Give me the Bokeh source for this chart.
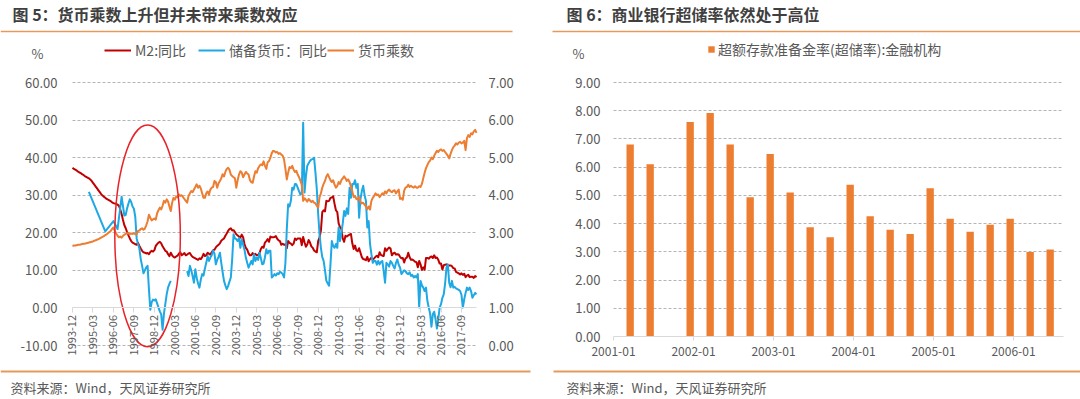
import math
from bokeh.plotting import figure
from bokeh.models import (Range1d, LinearAxis, FixedTicker, NumeralTickFormatter, Grid,
                          Legend, LegendItem, Label, BoxAnnotation)
from bokeh.layouts import row
from bokeh.embed import file_html
from bokeh.resources import INLINE

NAN = float("nan")
FONT = "Noto Sans CJK SC"
GRAY = "#595959"
AXIS = "#D9D9D9"
GRID = "#B4B4B4"
SEP = "#E59A5C"

# ---------------- Figure 5 data (monthly) ----------------
title5 = "图 5：货币乘数上升但并未带来乘数效应"
m2_start = "1993-12"
m2_yoy = [
    37.3,
    37.0, 36.8, 36.6, 36.3, 36.1, 35.9, 35.6, 35.4, 35.1, 34.9, 34.7, 34.5,
    34.2, 33.8, 33.3, 32.8, 32.3, 31.8, 31.3, 30.8, 30.3, 29.9, 29.6, 29.3,
    29.0, 28.8, 28.6, 28.4, 28.1, 27.9, 27.8, 27.7, 27.5, 27.2, 26.2, 25.0,
    23.4, 22.0, 21.2, 20.2, 19.3, 18.5, 17.8, 17.4, 17.2, 17.0, 16.8, 17.3,
    16.5, 15.8, 15.2, 14.8, 14.7, 14.5, 14.6, 14.3, 14.9, 15.2, 15.0, 15.4,
    16.5, 17.0, 17.4, 17.6, 17.2, 16.4, 15.8, 15.2, 15.0, 14.3, 13.8, 14.7,
    14.0, 13.6, 13.4, 13.7, 13.9, 14.5, 14.8, 14.0, 14.3, 14.6, 14.0, 14.2,
    14.5, 14.6, 14.0, 13.6, 13.4, 13.2, 13.0, 12.8, 13.2, 13.0, 13.5, 14.4,
    13.8, 14.0, 14.7, 14.4, 14.2, 14.8, 15.3, 15.5, 16.1, 16.5, 16.8, 17.2,
    17.9, 18.2, 18.5, 19.2, 19.8, 20.5, 21.0, 21.2, 20.6, 20.7, 20.2, 19.6,
    19.3, 19.0, 18.7, 19.5, 18.8, 17.0, 16.0, 15.5, 14.5, 14.0, 14.0, 14.6,
    14.1, 14.4, 14.0, 14.1, 14.6, 15.7, 16.3, 16.0, 17.4, 17.8, 18.3, 17.6,
    19.0, 18.8, 18.8, 18.9, 19.1, 18.4, 18.0, 17.8, 16.8, 17.1, 16.8, 16.9,
    15.9, 17.8, 17.3, 17.1, 16.7, 17.1, 18.5, 18.1, 18.5, 18.5, 18.5, 16.7,
    18.9, 17.5, 16.3, 16.9, 18.1, 17.4, 16.4, 16.0, 15.3, 15.0, 14.8, 17.8,
    18.8, 20.5, 25.5, 26.0, 25.7, 28.5, 28.4, 28.5, 29.3, 29.4, 29.7, 27.7,
    26.0, 25.5, 22.5, 21.5, 21.0, 18.5, 17.6, 19.2, 19.0, 19.3, 19.5, 19.7,
    17.2, 15.7, 16.6, 15.3, 15.1, 15.9, 14.7, 13.5, 13.0, 12.9, 12.7, 13.6,
    12.4, 13.0, 13.4, 12.8, 13.2, 13.6, 13.9, 13.5, 14.8, 14.1, 13.9, 13.8,
    15.9, 15.2, 15.7, 16.1, 15.8, 14.0, 14.5, 14.7, 14.2, 14.3, 14.2, 13.6,
    13.2, 13.3, 12.1, 13.2, 13.4, 14.7, 13.5, 12.8, 12.9, 12.6, 12.3, 12.2,
    10.8, 12.5, 11.6, 10.1, 10.8, 10.2, 13.3, 13.3, 13.1, 13.5, 13.7, 13.3,
    14.0, 13.3, 13.4, 12.8, 11.8, 11.8, 10.2, 11.4, 11.5, 11.6, 11.4, 11.3,
    11.3, 11.1, 10.6, 10.5, 9.6, 9.4, 9.2, 8.9, 9.2, 8.8, 9.1, 8.2,
    8.6, 8.8, 8.2, 8.3, 8.3, 8.0, 8.5, 8.2,
]

mult_start = "1993-12"
money_multiplier = [
    2.65,
    2.66, 2.66, 2.67, 2.68, 2.68, 2.69, 2.70, 2.71, 2.71, 2.72, 2.73, 2.74,
    2.75, 2.76, 2.77, 2.79, 2.80, 2.82, 2.83, 2.85, 2.87, 2.89, 2.91, 2.94,
    2.96, 2.99, 3.02, 3.05, 3.10, 3.14, 3.05, 2.98, 2.92, 2.88, 2.90, 2.87,
    2.92, 2.95, 2.97, 2.99, 2.98, 2.97, 2.98, 2.97, 2.99, 2.96, 2.96, 3.05,
    3.06, 3.10, 3.12, 3.08, 3.11, 3.20, 3.30, 3.48, 3.40, 3.33, 3.36, 3.38,
    3.35, 3.52, 3.60, 3.67, 3.62, 3.72, 3.85, 3.80, 3.89, 3.83, 3.70, 3.58,
    3.80, 3.93, 3.88, 3.97, 3.95, 4.02, 3.98, 4.00, 3.95, 3.90, 3.85, 3.80,
    3.98, 4.05, 4.11, 4.08, 4.15, 4.22, 4.29, 4.20, 4.25, 4.18, 4.05, 3.93,
    3.93, 4.05, 4.10, 4.02, 4.15, 4.20, 4.22, 4.38, 4.35, 4.20, 4.32, 4.38,
    4.45, 4.56, 4.50, 4.62, 4.70, 4.73, 4.68, 4.55, 4.51, 4.48, 4.45, 4.20,
    4.40, 4.55, 4.64, 4.60, 4.48, 4.55, 4.62, 4.58, 4.55, 4.40, 4.35, 4.33,
    4.50, 4.64, 4.60, 4.72, 4.78, 4.82, 4.80, 4.90, 4.78, 4.70, 4.88, 4.91,
    5.00, 5.12, 5.18, 5.17, 5.14, 5.15, 5.10, 5.12, 5.08, 5.05, 4.95, 4.70,
    4.42, 4.60, 4.75, 4.72, 4.78, 4.68, 4.62, 4.65, 4.55, 4.48, 4.38, 4.28,
    3.85, 3.92, 3.88, 3.83, 3.90, 3.86, 3.82, 3.85, 3.80, 3.78, 3.72, 3.67,
    3.95, 4.05, 4.20, 4.30, 4.38, 4.50, 4.56, 4.48, 4.40, 4.35, 4.40, 4.28,
    4.20, 4.25, 4.35, 4.30, 4.40, 4.45, 4.50, 4.45, 4.38, 4.42, 4.35, 4.24,
    4.10, 3.95, 3.98, 3.90, 3.88, 3.95, 3.82, 3.78, 3.80, 3.75, 3.70, 3.63,
    3.70, 3.62, 3.85, 3.93, 3.98, 4.05, 4.00, 4.02, 3.95, 4.00, 4.05, 4.02,
    4.10, 4.05, 4.12, 4.15, 4.10, 4.08, 4.12, 4.13, 4.05, 4.10, 4.15, 3.90,
    3.92, 3.88, 4.12, 4.20, 4.22, 4.28, 4.22, 4.25, 4.22, 4.20, 4.24, 4.20,
    4.20, 4.24, 4.22, 4.30, 4.45, 4.60, 4.72, 4.80, 4.88, 4.92, 5.00, 4.96,
    5.05, 5.12, 5.18, 5.15, 5.20, 5.22, 5.18, 5.20, 5.15, 5.10, 5.05, 4.98,
    5.10, 5.20, 5.28, 5.32, 5.38, 5.35, 5.40, 5.42, 5.38, 5.40, 5.45, 5.20,
    5.52, 5.60, 5.55, 5.65, 5.62, 5.70, 5.74, 5.66,
]

# None = month without observation (line continues), NAN = gap in the line
reserve_start = "1994-12"
reserve_yoy = [
    30.9,
    None, None, None, None, None, None, None, None, None, None, None,
    20.4,
    None, None, None, None, None,
    23.1,
    None, None,
    21.0,
    None, None,
    29.6,
    27.0, 24.6, 24.8, 26.5, 27.8, 28.9, 28.2, 27.0, 26.4, 24.2, 18.5, 17.0,
    15.8, 13.0, 11.2, 9.2, 10.0, 10.8, 11.2, 5.0, -0.5, 1.5, 2.2, 2.0,
    2.3, 1.2, 0.1, -0.9, -1.7, -5.8, -1.5, 1.0, 3.6, 5.4, 6.4, 7.2,
    NAN, NAN, NAN, NAN, NAN, NAN, NAN, NAN, NAN, NAN, NAN, 9.8,
    8.5, 11.2, 10.0, 8.5, 6.7, 10.3, 8.0, 6.5, 5.4, 7.5, 9.0, 8.6,
    10.5, 12.0, 13.8, 12.5, 13.4, 14.0, 15.2, 14.5, 11.6, 12.8, 13.6, 14.7,
    12.0, 9.5, 7.2, 6.0, 5.0, 5.8, 7.0, 8.1, 13.0, 19.6, 18.5, 18.3,
    17.8, 18.6, 16.0, 18.3, 16.8, 15.5, 13.4, 12.0, 10.7, 11.6, 12.5, 11.6,
    14.3, 12.5, 13.4, 12.8, 14.7, 13.2, 11.6, 11.8, 13.5, 15.6, 14.5, 15.2,
    15.2, 8.1, 8.5, 9.0, 8.6, 9.2, 9.0, 9.6, 9.4, 9.0, 8.1, 12.0,
    20.9, 27.6, 27.0, 28.5, 32.0, 31.5, 33.0, 32.9, 32.0, 31.0, 30.2, 30.5,
    49.3, 30.7, 35.0, 37.8, 38.5, 39.1, 39.5, 39.6, 40.0, 36.0, 31.6, 25.0,
    19.6, 16.0, 13.5, 12.5, 10.0, 7.2, 6.5, 5.9, 11.6, 17.8, 16.5, 16.0,
    17.0, 16.0, 21.4, 17.8, 20.0, 22.5, 25.8, 24.5, 26.5, 25.0, 32.0, 29.3,
    33.0, 32.9, 34.0, 32.0, 33.0, 24.0, 29.0, 31.1, 32.5, 30.0, 28.5, 21.4,
    23.1, 17.0, 14.3, 12.0, 12.5, 12.5, 11.5, 12.5, 11.6, 12.2, 12.5, 9.8,
    6.7, 12.0, 11.6, 11.0, 12.5, 12.0, 11.2, 10.5, 12.0, 12.9, 11.5, 10.7,
    9.0, 9.5, 10.0, 9.8, 9.2, 9.0, 9.5, 8.5, 8.8, 8.1, 8.5, 8.1,
    9.0, 0.1, 7.2, 6.0, 5.4, 4.5, 5.4, 1.9, 0.1, -1.5, -5.0, -1.7,
    -1.0, -3.0, -5.5, -3.0, 0.1, 1.0, 2.7, 3.6, 6.5, 10.7, 11.6, 6.7,
    5.5, 7.2, 5.4, 5.6, 5.2, 5.0, 4.8, 4.5, 3.5, 0.1, 2.3, 4.0,
    5.4, 4.8, 5.4, 4.5, 2.7, 3.4, 4.0, 3.6,
]

x_labels_5 = ["1993-12", "1995-03", "1996-06", "1997-09", "1998-12", "2000-03",
              "2001-06", "2002-09", "2003-12", "2005-03", "2006-06", "2007-09",
              "2008-12", "2010-03", "2011-06", "2012-09", "2013-12", "2015-03",
              "2016-06", "2017-09"]
left_ticks_5 = [-10, 0, 10, 20, 30, 40, 50, 60]
right_ticks_5 = [0, 1, 2, 3, 4, 5, 6, 7]
series_names_5 = ["M2:同比", "储备货币：同比", "货币乘数"]

# highlight ellipse drawn by the author
highlight_center = "1998-07"
highlight_value = 19.2
highlight_months = 48
highlight_span = 59

# ---------------- Figure 6 data (quarterly) ----------------
title6 = "图 6：商业银行超储率依然处于高位"
excess_dates = ["2001-03", "2001-06", "2001-12",
                "2002-03", "2002-06", "2002-09", "2002-12",
                "2003-03", "2003-06", "2003-09", "2003-12",
                "2004-03", "2004-06", "2004-09", "2004-12",
                "2005-03", "2005-06", "2005-09", "2005-12",
                "2006-03", "2006-06"]
excess_ratio = [6.80, 6.10, 7.60,
                7.92, 6.80, 4.93, 6.47,
                5.10, 3.87, 3.52, 5.38,
                4.26, 3.78, 3.63, 5.25,
                4.17, 3.71, 3.96, 4.17,
                2.99, 3.08]
x_labels_6 = ["2001-01", "2002-01", "2003-01", "2004-01", "2005-01", "2006-01"]
y_ticks_6 = [0, 1, 2, 3, 4, 5, 6, 7, 8, 9]
series_name_6 = "超额存款准备金率(超储率):金融机构"
source_text = "资料来源：Wind，天风证券研究所"


def months(s, origin):
    y, m = (int(t) for t in s.split("-"))
    oy, om = (int(t) for t in origin.split("-"))
    return (y - oy) * 12 + (m - om)


ORIGIN5 = "1993-12"
ORIGIN6 = "2001-01"

m2_x = [months(m2_start, ORIGIN5) + k for k in range(len(m2_yoy))]
mult_x = [months(mult_start, ORIGIN5) + k for k in range(len(money_multiplier))]
res_x, res_y = [], []
r0 = months(reserve_start, ORIGIN5)
for k, v in enumerate(reserve_yoy):
    if v is None:
        continue
    res_x.append(r0 + k)
    res_y.append(v)
n5 = max(m2_x[-1], mult_x[-1], res_x[-1])

# ---------------- pixel layout ----------------
H = 399
W1, W2 = 544, 536
frame1 = dict(left=72, right=476, top=82, bottom=345)
frame2 = dict(left=69, right=519, top=82, bottom=336)


def full_ranges(frame, width, xlo, xhi, ylo, yhi):
    kx = (frame["right"] - frame["left"]) / (xhi - xlo)
    ky = (frame["bottom"] - frame["top"]) / (yhi - ylo)
    xr = (xlo - frame["left"] / kx, xhi + (width - frame["right"]) / kx)
    yr = (ylo - (H - frame["bottom"]) / ky, yhi + frame["top"] / ky)
    return xr, yr


def scr_label(p, x, y, text, size, color=GRAY, bold=False):
    p.add_layout(Label(x=x, y=H - y, x_units="screen", y_units="screen", text=text,
                       text_font=FONT, text_font_size=size, text_color=color,
                       text_font_style="bold" if bold else "normal",
                       text_baseline="middle", text_align="left"))


def scr_rule(p, x0, x1, y, thick):
    p.add_layout(BoxAnnotation(left=x0, right=x1, top=H - y + thick / 2, bottom=H - y - thick / 2,
                               left_units="screen", right_units="screen",
                               top_units="screen", bottom_units="screen",
                               fill_color=SEP, fill_alpha=1, line_color=None))


def add_hgrid(p, ticks, x0, x1, px_width, range_name="default"):
    if "cross_bounds" in Grid.properties():
        g = Grid(dimension=1, ticker=FixedTicker(ticks=ticks), y_range_name=range_name,
                 grid_line_color=GRID, grid_line_dash="3 2", grid_line_width=1)
        g.cross_bounds = (x0, x1)
        p.add_layout(g)
    else:
        ax = LinearAxis(fixed_location=x0, ticker=FixedTicker(ticks=ticks), y_range_name=range_name,
                        axis_line_color=None, major_tick_in=px_width, major_tick_out=0,
                        major_tick_line_color=GRID, major_tick_line_dash="3 2",
                        minor_tick_line_color=None,
                        major_label_overrides={t: "" for t in ticks})
        p.add_layout(ax, "left")


def value_axis(loc, ticks, standoff, range_name="default"):
    return LinearAxis(fixed_location=loc, ticker=FixedTicker(ticks=ticks), y_range_name=range_name,
                      formatter=NumeralTickFormatter(format="0.00"),
                      axis_line_color=None, major_tick_line_color=None, minor_tick_line_color=None,
                      major_tick_out=0, major_tick_in=0, major_label_standoff=standoff,
                      major_label_text_font=FONT, major_label_text_font_size="13px",
                      major_label_text_color=GRAY)


def base_fig(width, xr, yr):
    p = figure(width=width, height=H, x_range=Range1d(*xr), y_range=Range1d(*yr),
               x_axis_location=None, y_axis_location=None,
               output_backend="svg", toolbar_location=None,
               min_border_left=0, min_border_right=0, min_border_top=0, min_border_bottom=0)
    p.title.visible = False
    p.outline_line_color = None
    p.background_fill_color = "white"
    p.border_fill_color = "white"
    p.xgrid.visible = False
    p.ygrid.visible = False
    return p


# ---------------- left figure ----------------
xr1, yr1 = full_ranges(frame1, W1, 0, n5, left_ticks_5[0], left_ticks_5[-1])
p1 = base_fig(W1, xr1, yr1)


def to_mult(v):
    return right_ticks_5[0] + (v - left_ticks_5[0]) * (right_ticks_5[-1] - right_ticks_5[0]) / (left_ticks_5[-1] - left_ticks_5[0])


p1.extra_y_ranges = {"mult": Range1d(to_mult(yr1[0]), to_mult(yr1[1]))}

add_hgrid(p1, [t for t in left_ticks_5 if t != 0], 0, n5, frame1["right"] - frame1["left"])
p1.add_layout(value_axis(0, left_ticks_5, 15), "left")
p1.add_layout(value_axis(n5, right_ticks_5, 12, "mult"), "right")

tick_pos5 = [months(s, ORIGIN5) for s in x_labels_5]
xa = LinearAxis(fixed_location=0, bounds=(0, n5), ticker=FixedTicker(ticks=tick_pos5),
                major_label_overrides={t: s for t, s in zip(tick_pos5, x_labels_5)},
                major_label_orientation=math.pi / 2,
                axis_line_color=AXIS, axis_line_width=1.2,
                major_tick_line_color=AXIS, major_tick_out=5, major_tick_in=0,
                minor_tick_line_color=None, major_label_standoff=2,
                major_label_text_font=FONT, major_label_text_font_size="11px",
                major_label_text_color=GRAY)
p1.add_layout(xa, "below")

r_m2 = p1.line(m2_x, m2_yoy, line_color="#C00000", line_width=2, line_join="round")
r_res = p1.line(res_x, res_y, line_color="#1EA8E4", line_width=2, line_join="round")
r_mult = p1.line(mult_x, money_multiplier, line_color="#ED7D31", line_width=2,
                 line_join="round", y_range_name="mult")
p1.ellipse(x=[months(highlight_center, ORIGIN5)], y=[highlight_value],
           width=highlight_months, height=highlight_span,
           fill_color=None, line_color="#E8232A", line_width=1.5)

# legend location is the bottom-left corner of the legend box
leg1 = Legend(items=[LegendItem(label=series_names_5[0], renderers=[r_m2]),
                     LegendItem(label=series_names_5[1], renderers=[r_res]),
                     LegendItem(label=series_names_5[2], renderers=[r_mult])],
              orientation="horizontal", location=(104, H - 59.5),
              glyph_width=27, glyph_height=16, label_height=16, label_width=63,
              label_standoff=4, spacing=0, padding=0, margin=0,
              border_line_color=None, background_fill_alpha=0,
              label_text_font=FONT, label_text_font_size="14px", label_text_color=GRAY)
p1.add_layout(leg1)

scr_label(p1, 12, 13, title5, "16px", color="#3F3F3F", bold=True)
scr_rule(p1, 0, 512, 31, 1.5)
scr_label(p1, 31, 53, "%", "13px")
scr_label(p1, 10, 387, source_text, "13px")
scr_rule(p1, 0, 530, 371, 2)

# ---------------- right figure ----------------
xr2, yr2 = full_ranges(frame2, W2, 0, 67.5, y_ticks_6[0], y_ticks_6[-1])
p2 = base_fig(W2, xr2, yr2)
add_hgrid(p2, [t for t in y_ticks_6 if t != 0], 0, 67.5, frame2["right"] - frame2["left"])
p2.add_layout(value_axis(0, y_ticks_6, 13), "left")

tick_pos6 = [months(s, ORIGIN6) for s in x_labels_6]
xb = LinearAxis(fixed_location=0, bounds=(0, 67.5), ticker=FixedTicker(ticks=tick_pos6),
                major_label_overrides={t: s for t, s in zip(tick_pos6, x_labels_6)},
                axis_line_color=AXIS, axis_line_width=1.2,
                major_tick_line_color=AXIS, major_tick_out=4, major_tick_in=0,
                minor_tick_line_color=None, major_label_standoff=6,
                major_label_text_font=FONT, major_label_text_font_size="12px",
                major_label_text_color=GRAY)
p2.add_layout(xb, "below")

bar_x = [months(d, ORIGIN6) + 0.5 for d in excess_dates]
r_bar = p2.vbar(x=bar_x, top=excess_ratio, width=1.1, fill_color="#ED7D31", line_color=None)

leg2 = Legend(items=[LegendItem(label=series_name_6, renderers=[r_bar])],
              orientation="horizontal", location=(163, H - 59),
              glyph_width=8, glyph_height=8, label_height=8,
              label_standoff=3, padding=0, margin=0,
              border_line_color=None, background_fill_alpha=0,
              label_text_font=FONT, label_text_font_size="14px", label_text_color=GRAY)
p2.add_layout(leg2)

scr_label(p2, 22, 13, title6, "16px", color="#3F3F3F", bold=True)
scr_rule(p2, 8, 536, 31, 1.5)
scr_label(p2, 28, 53, "%", "13px")
scr_label(p2, 22, 387, source_text, "13px")
scr_rule(p2, 9, 536, 371, 2)

layout = row(p1, p2)
open("out.html", "w").write(file_html(layout, INLINE))
